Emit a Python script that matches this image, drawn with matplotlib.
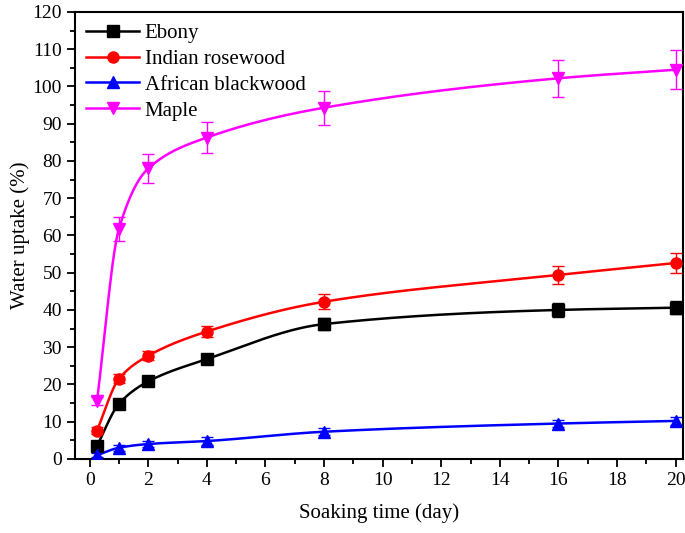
import numpy as np
import matplotlib
matplotlib.use("Agg")
import matplotlib.pyplot as plt

plt.rcParams['font.family'] = ['Liberation Serif', 'DejaVu Serif']

# === DATA ===
days = [0.25, 1, 2, 4, 8, 16, 20]

ebony = [3.5, 14.8, 20.8, 26.8, 36.2, 40.0, 40.6]
ebony_err = [0.8, 1.0, 1.0, 1.2, 1.6, 1.8, 1.8]

rosewood = [7.6, 21.5, 27.7, 34.2, 42.2, 49.4, 52.6]
rosewood_err = [1.0, 1.2, 1.2, 1.5, 2.0, 2.4, 2.6]

blackwood = [1.0, 3.0, 4.0, 4.8, 7.3, 9.5, 10.2]
blackwood_err = [0.5, 0.8, 0.9, 1.0, 1.0, 1.0, 1.0]

maple = [15.5, 61.8, 78.0, 86.3, 94.3, 102.2, 104.5]
maple_err = [1.0, 3.2, 3.8, 4.2, 4.6, 5.0, 5.3]


def pchip(x, y, xn):
    # monotone cubic (Fritsch-Carlson) for the smooth connecting line
    x = np.asarray(x, float)
    y = np.asarray(y, float)
    h = np.diff(x)
    d = np.diff(y) / h
    m = np.zeros_like(y)
    for k in range(1, len(x) - 1):
        if d[k - 1] * d[k] > 0:
            w1 = 2 * h[k] + h[k - 1]
            w2 = h[k] + 2 * h[k - 1]
            m[k] = (w1 + w2) / (w1 / d[k - 1] + w2 / d[k])
    m[0] = d[0]
    m[-1] = d[-1]
    idx = np.clip(np.searchsorted(x, xn) - 1, 0, len(x) - 2)
    t = (xn - x[idx]) / h[idx]
    h00 = 2 * t**3 - 3 * t**2 + 1
    h10 = t**3 - 2 * t**2 + t
    h01 = -2 * t**3 + 3 * t**2
    h11 = t**3 - t**2
    return h00 * y[idx] + h10 * h[idx] * m[idx] + h01 * y[idx + 1] + h11 * h[idx] * m[idx + 1]


series = [
    ("Ebony", ebony, ebony_err, "black", "s"),
    ("Indian rosewood", rosewood, rosewood_err, "red", "o"),
    ("African blackwood", blackwood, blackwood_err, "blue", "^"),
    ("Maple", maple, maple_err, "magenta", "v"),
]

fig = plt.figure(figsize=(6.85, 5.33), dpi=100)
ax = fig.add_axes([0.1095, 0.139, 0.8875, 0.8385])

xs = np.linspace(days[0], days[-1], 400)
for name, vals, err, color, marker in series:
    ax.plot(xs, pchip(days, vals, xs), color=color, lw=1.8, zorder=2)
    ax.errorbar(days, vals, yerr=err, fmt="none", ecolor=color, elinewidth=1.0,
                capsize=4, capthick=1.0, zorder=3)
    ax.plot(days, vals, linestyle="none", marker=marker, color=color, ms=8, zorder=4)
    ax.plot([], [], color=color, marker=marker, ms=8, lw=1.8, label=name)

ax.set_xlim(-0.5, 20.25)
ax.set_ylim(0, 120)
ax.set_xticks(np.arange(0, 21, 2))
ax.set_xticks(np.arange(1, 21, 2), minor=True)
ax.set_yticks(np.arange(0, 121, 10))
ax.set_yticks(np.arange(5, 120, 10), minor=True)
ax.tick_params(which="major", direction="out", length=6, width=1.3, labelsize=14)
ax.tick_params(which="minor", direction="out", length=3.5, width=1.3)
for s in ax.spines.values():
    s.set_linewidth(1.5)

ax.set_xlabel("Soaking time (day)", fontsize=15, labelpad=10)
ax.set_ylabel("Water uptake (%)", fontsize=15, labelpad=2)

ax.legend(loc="upper left", frameon=False, fontsize=15, handlelength=2.5,
          borderaxespad=0.15, labelspacing=0.3, handletextpad=0.3)

fig.savefig("out.png", dpi=100)
